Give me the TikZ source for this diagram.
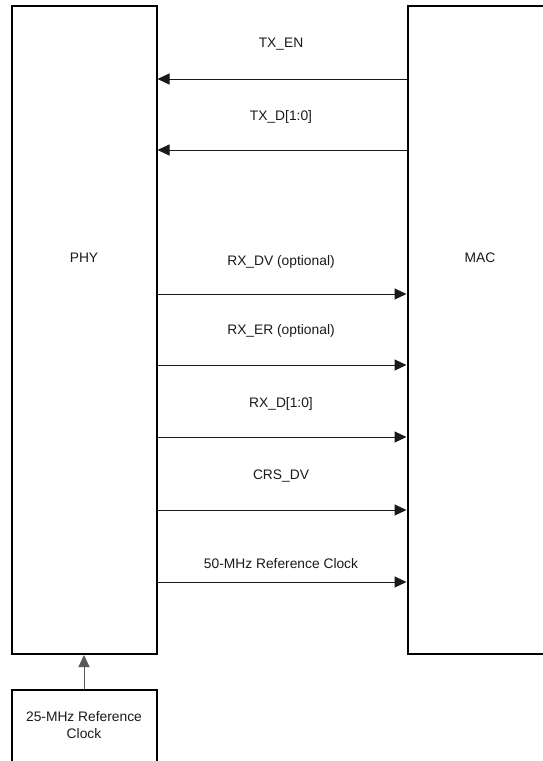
\documentclass[tikz,border=0pt]{standalone}
\usepackage{fontspec}
\setmainfont{Liberation Sans}
\usetikzlibrary{arrows.meta}
\begin{document}
\begin{tikzpicture}[x=1pt,y=-1pt,
  blk/.style={draw=black,line width=2pt,rectangle,inner sep=0pt},
  sig/.style={draw=black!90,line width=1pt,-{Triangle[length=12pt,width=11pt]}},
  lbl/.style={font=\fontsize{13.8}{16}\selectfont,inner sep=0pt,text=black!90},
]
\useasboundingbox (0,0) rectangle (543,761);
\clip (0,0) rectangle (543,761);
\node[blk,minimum width=145pt,minimum height=648pt] (phy) at (84,330) {};
\node[blk,minimum width=145pt,minimum height=648pt] (mac) at (480,330) {};
\node[blk,minimum width=145pt,minimum height=100pt] (clk) at (84,740) {};
\node[lbl] (phyt) at (84,258) {PHY};
\node[lbl] (mact) at (480,258) {MAC};
\node[lbl,align=center,font=\fontsize{13.8}{17}\selectfont] (clkt) at (84,725) {25-MHz Reference\\Clock};
\coordinate (y1) at (0,79);
\coordinate (y2) at (0,150);
\coordinate (y3) at (0,294);
\coordinate (y4) at (0,365);
\coordinate (y5) at (0,437);
\coordinate (y6) at (0,510);
\coordinate (y7) at (0,582);
\draw[sig] (mac.west |- y1) -- (phy.east |- y1);
\draw[sig] (mac.west |- y2) -- (phy.east |- y2);
\draw[sig] (phy.east |- y3) -- (mac.west |- y3);
\draw[sig] (phy.east |- y4) -- (mac.west |- y4);
\draw[sig] (phy.east |- y5) -- (mac.west |- y5);
\draw[sig] (phy.east |- y6) -- (mac.west |- y6);
\draw[sig] (phy.east |- y7) -- (mac.west |- y7);
\node[lbl] (l1) at (281,44) {TX\_EN};
\node[lbl] (l2) at (281,117) {TX\_D[1:0]};
\node[lbl] (l3) at (281,262) {RX\_DV (optional)};
\node[lbl] (l4) at (281,331) {RX\_ER (optional)};
\node[lbl] (l5) at (281,404) {RX\_D[1:0]};
\node[lbl] (l6) at (281,476) {CRS\_DV};
\node[lbl] (l7) at (281,564) {50-MHz Reference Clock};
\draw[sig,draw=black!65] (clk.north) -- (phy.south);
\end{tikzpicture}
\end{document}
